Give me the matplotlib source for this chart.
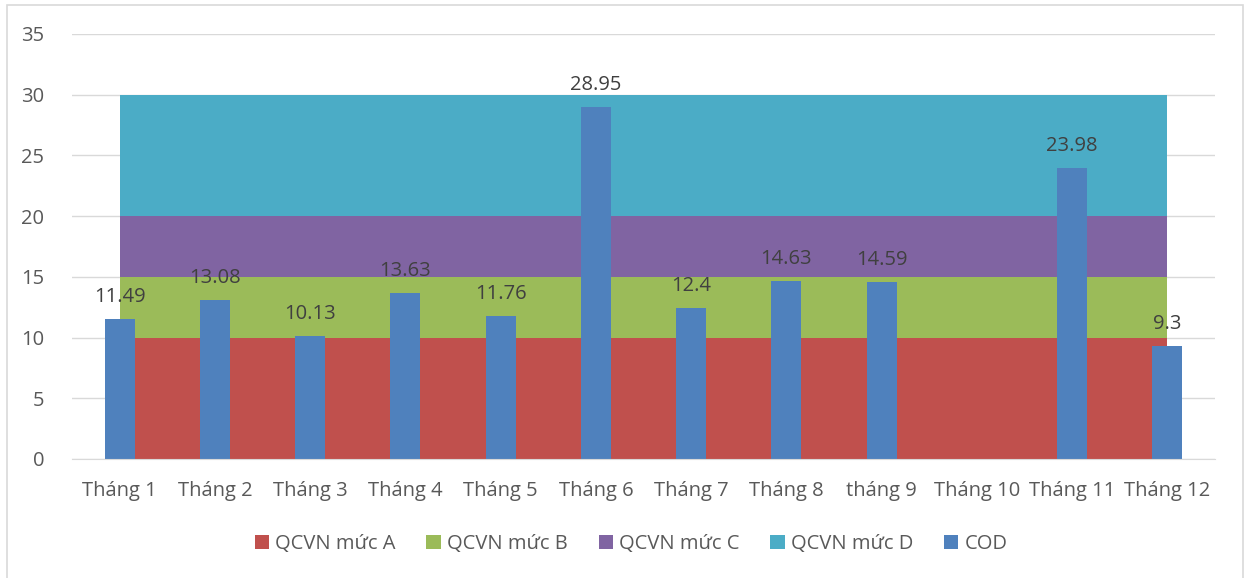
import matplotlib.pyplot as plt
import numpy as np
from matplotlib.patches import Rectangle

plt.rcParams['font.family'] = ['Open Sans', 'DejaVu Sans']

months = ['Tháng 1', 'Tháng 2', 'Tháng 3', 'Tháng 4', 'Tháng 5', 'Tháng 6',
          'Tháng 7', 'Tháng 8', 'tháng 9', 'Tháng 10', 'Tháng 11', 'Tháng 12']
cod = [11.49, 13.08, 10.13, 13.63, 11.76, 28.95, 12.4, 14.63, 14.59, np.nan, 23.98, 9.3]
muc_a = [10] * 12
muc_b = [5] * 12   # 10 -> 15
muc_c = [5] * 12   # 15 -> 20
muc_d = [10] * 12  # 20 -> 30

colors = ['#C0504D', '#9BBB59', '#8064A2', '#4BACC6']
bar_color = '#4F81BD'
text_color = '#595959'

fig = plt.figure(figsize=(12.47, 5.78), dpi=100)
ax = fig.add_axes([0.0577, 0.2059, 0.9166, 0.7353])

x = np.arange(len(months))
ax.stackplot(x, muc_a, muc_b, muc_c, muc_d, colors=colors,
             labels=['QCVN mức A', 'QCVN mức B', 'QCVN mức C', 'QCVN mức D'], zorder=2)
bars = ax.bar(x, cod, width=0.315, color=bar_color, label='COD', zorder=3)

for xi, v in zip(x, cod):
    if not np.isnan(v):
        ax.text(xi, v + 1.0, f'{v:g}', ha='center', va='bottom', fontsize=14.5,
                color='#404040', zorder=4)

ax.set_xlim(-0.5, 11.5)
ax.set_ylim(0, 35)
ax.set_yticks(range(0, 36, 5))
ax.set_xticks(x)
ax.set_xticklabels(months)
ax.tick_params(axis='both', length=0, labelsize=14.5, colors=text_color)
ax.tick_params(axis='x', pad=16)
ax.tick_params(axis='y', pad=20)
ax.grid(axis='y', color='#D9D9D9', linewidth=1, zorder=0)
ax.set_axisbelow(True)
for s in ['top', 'right', 'left']:
    ax.spines[s].set_visible(False)
ax.spines['bottom'].set_color('#D9D9D9')
ax.spines['bottom'].set_zorder(5)

handles, labels = ax.get_legend_handles_labels()
fig.legend(handles, labels, loc='center', bbox_to_anchor=(0.506, 0.058), ncol=5,
           frameon=False, fontsize=14.5, handlelength=0.7, handleheight=0.7,
           handletextpad=0.3, columnspacing=1.55, labelcolor=text_color)

fig.patches.append(Rectangle((0.006, -0.01), 0.991, 1.001, transform=fig.transFigure,
                             fill=False, edgecolor='#D9D9D9', linewidth=1.2))

fig.savefig('out.png', dpi=100)
